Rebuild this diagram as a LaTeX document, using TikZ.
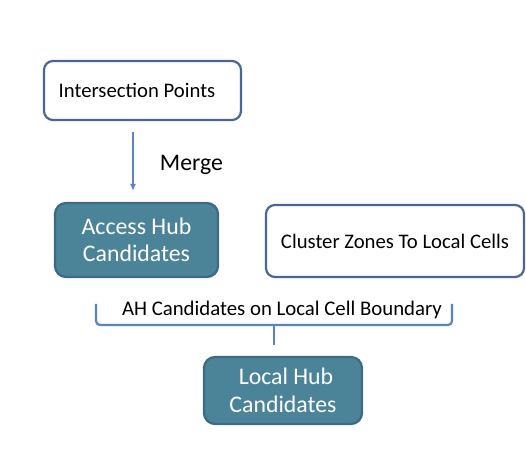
\documentclass[tikz,border=0pt]{standalone}
\usepackage{fontspec}
\setmainfont{Carlito}
\usetikzlibrary{arrows.meta}

\definecolor{boxline}{HTML}{4A6794}
\definecolor{hubfill}{HTML}{4B8499}
\definecolor{hubline}{HTML}{3B6B85}
\definecolor{flowline}{HTML}{5B83BD}

\begin{document}
\begin{tikzpicture}[
  x=1pt, y=1pt,
  plainbox/.style={rectangle, rounded corners=9pt, draw=boxline, line width=2.2pt, fill=white,
    font=\fontsize{20.7}{24}\selectfont, align=center, inner sep=0pt},
  hubbox/.style={rectangle, rounded corners=11pt, draw=hubline, line width=2.2pt, fill=hubfill,
    text=white, font=\fontsize{23.8}{27.5}\selectfont, align=center, inner sep=0pt},
  flow/.style={draw=flowline, line width=2.2pt},
  step label/.style={font=\fontsize{20.8}{24}\selectfont, inner sep=0pt}
]
\useasboundingbox (0,0) rectangle (526,452);

% Nodes
\node[plainbox, minimum width=197, minimum height=59] (inter) at (142.5,361.5) {\hspace*{-11pt}Intersection Points};
\node[hubbox, minimum width=163, minimum height=74] (access) at (136.5,212) {Access Hub\\Candidates};
\node[plainbox, minimum width=258, minimum height=72] (cluster) at (395,211) {Cluster Zones To Local Cells};
\node[hubbox, minimum width=158, minimum height=67] (localhub) at (283,61.5) {\hspace*{6pt}Local Hub\\Candidates};

\node[font=\fontsize{23.8}{27.5}\selectfont, inner sep=0pt] (merge) at (191.5,287) {Merge};
\node[step label] (boundary) at (282,142) {AH Candidates on Local Cell Boundary};

% Merge arrow
\draw[flow, -{Latex[length=7pt,width=6pt]}, shorten <=11pt, shorten >=11pt]
  ([xshift=-9.5pt]inter.south) -- ([xshift=-9.5pt]inter.south |- access.north);

% Bracket under the label
\coordinate (bl) at (96,148);
\coordinate (br) at (452,148);
\coordinate (bm) at (274,127);
\draw[flow, rounded corners=4pt] (bl) -- (bl |- bm) -- (br |- bm) -- (br);
\draw[flow] (bm) -- ++(0,-20);
\end{tikzpicture}
\end{document}
